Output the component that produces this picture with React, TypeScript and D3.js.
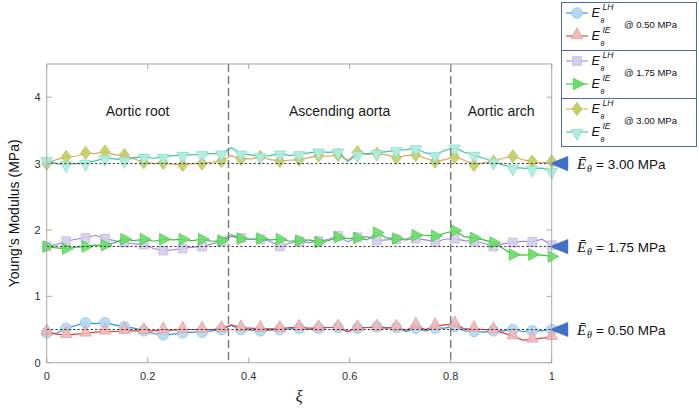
import React from "react";
import * as d3 from "d3";

const sampleCount = 53;
const xTicks = [0, 0.2, 0.4, 0.6, 0.8, 1];
const yTicks = [0, 1, 2, 3, 4];
const regionBounds = [0.36, 0.8];
const regionLabels = ["Aortic root", "Ascending aorta", "Aortic arch"];
const regionCenters = [0.18, 0.58, 0.9];
const referenceLevels = [0.5, 1.75, 3.0];
const referenceLabels = ["0.50", "1.75", "3.00"];
const legendPressures = ["@ 0.50 MPa", "@ 1.75 MPa", "@ 3.00 MPa"];

// values at marker samples (every other sample) and the samples between them
const lh050Markers = [0.45, 0.52, 0.6, 0.6, 0.54, 0.48, 0.42, 0.45, 0.46, 0.5, 0.5, 0.48, 0.5, 0.52, 0.52, 0.53, 0.52, 0.54, 0.53, 0.52, 0.52, 0.55, 0.47, 0.48, 0.5, 0.48, 0.5];
const lh050Between = [0.44, 0.56, 0.59, 0.57, 0.52, 0.44, 0.43, 0.46, 0.48, 0.56, 0.49, 0.49, 0.51, 0.5, 0.53, 0.47, 0.53, 0.53, 0.47, 0.48, 0.52, 0.48, 0.46, 0.48, 0.47, 0.48];
const ie050Markers = [0.46, 0.42, 0.44, 0.47, 0.48, 0.48, 0.49, 0.5, 0.5, 0.51, 0.52, 0.51, 0.51, 0.53, 0.52, 0.53, 0.52, 0.53, 0.53, 0.56, 0.55, 0.58, 0.51, 0.49, 0.4, 0.35, 0.39];
const ie050Between = [0.43, 0.43, 0.46, 0.47, 0.48, 0.48, 0.49, 0.5, 0.5, 0.57, 0.52, 0.51, 0.53, 0.52, 0.53, 0.47, 0.53, 0.52, 0.49, 0.5, 0.57, 0.51, 0.5, 0.45, 0.34, 0.37];
const lh175Markers = [1.75, 1.83, 1.88, 1.87, 1.81, 1.78, 1.69, 1.72, 1.75, 1.83, 1.88, 1.86, 1.75, 1.83, 1.83, 1.91, 1.89, 1.84, 1.86, 1.87, 1.82, 1.87, 1.83, 1.75, 1.81, 1.82, 1.77];
const lh175Between = [1.78, 1.86, 1.92, 1.84, 1.79, 1.72, 1.7, 1.74, 1.79, 1.9, 1.86, 1.83, 1.8, 1.81, 1.86, 1.82, 1.9, 1.85, 1.85, 1.85, 1.86, 1.84, 1.8, 1.79, 1.83, 1.86];
const ie175Markers = [1.75, 1.72, 1.75, 1.77, 1.86, 1.86, 1.86, 1.86, 1.86, 1.84, 1.87, 1.87, 1.86, 1.84, 1.82, 1.89, 1.88, 1.96, 1.87, 1.92, 1.91, 1.99, 1.88, 1.81, 1.63, 1.63, 1.6];
const ie175Between = [1.73, 1.74, 1.77, 1.81, 1.84, 1.83, 1.85, 1.84, 1.83, 1.93, 1.86, 1.85, 1.83, 1.85, 1.84, 1.87, 1.85, 1.88, 1.86, 1.92, 1.95, 1.9, 1.85, 1.72, 1.62, 1.62];
const lh300Markers = [3.0, 3.1, 3.16, 3.18, 3.13, 3.02, 3.01, 2.98, 3.0, 3.04, 3.07, 3.1, 3.04, 3.06, 3.12, 3.13, 3.17, 3.15, 3.09, 3.13, 3.03, 3.1, 2.98, 3.03, 3.11, 3.03, 3.03];
const lh300Between = [3.06, 3.11, 3.15, 3.13, 3.07, 3.0, 2.99, 3.0, 3.02, 3.12, 3.07, 3.06, 3.05, 3.09, 3.11, 3.05, 3.14, 3.13, 3.12, 3.08, 3.06, 3.05, 3.01, 3.08, 3.06, 3.01];
const ie300Markers = [3.05, 2.99, 3.01, 3.08, 3.05, 3.1, 3.1, 3.13, 3.14, 3.15, 3.15, 3.11, 3.15, 3.14, 3.18, 3.18, 3.14, 3.16, 3.2, 3.23, 3.13, 3.24, 3.13, 3.03, 2.94, 2.92, 2.89];
const ie300Between = [3.0, 3.0, 3.04, 3.07, 3.09, 3.08, 3.12, 3.13, 3.15, 3.24, 3.13, 3.12, 3.12, 3.16, 3.17, 3.03, 3.15, 3.18, 3.21, 3.16, 3.2, 3.17, 3.08, 2.98, 2.93, 2.93];

type Sym = "circle" | "triUp" | "square" | "triRight" | "diamond" | "triDown";

function interleave(m: number[], b: number[]) {
  const out: number[] = [];
  m.forEach((v, i) => {
    out.push(v);
    if (i < b.length) out.push(b[i]);
  });
  return out;
}

const series = [
  { values: interleave(lh050Markers, lh050Between), line: "#2e8ee0", fill: "#b4d9f3", stroke: "#8ec4ec", sym: "circle" as Sym },
  { values: interleave(ie050Markers, ie050Between), line: "#e2393a", fill: "#f1b9b8", stroke: "#e59c9a", sym: "triUp" as Sym },
  { values: interleave(lh175Markers, lh175Between), line: "#a283e6", fill: "#d6cdea", stroke: "#c4b8e2", sym: "square" as Sym },
  { values: interleave(ie175Markers, ie175Between), line: "#34c034", fill: "#6ade6a", stroke: "#4ccc4c", sym: "triRight" as Sym },
  { values: interleave(lh300Markers, lh300Between), line: "#d9a862", fill: "#c5cd62", stroke: "#b5be52", sym: "diamond" as Sym },
  { values: interleave(ie300Markers, ie300Between), line: "#3cc4a6", fill: "#b2ece0", stroke: "#86dcc8", sym: "triDown" as Sym },
];

function symbolPath(sym: Sym, cx: number, cy: number) {
  switch (sym) {
    case "circle": {
      const r = 5.3;
      return `M${cx - r},${cy}a${r},${r} 0 1,0 ${2 * r},0a${r},${r} 0 1,0 ${-2 * r},0Z`;
    }
    case "triUp":
      return `M${cx},${cy - 8.3}L${cx + 5.8},${cy + 2.6}L${cx - 5.8},${cy + 2.6}Z`;
    case "triDown":
      return `M${cx},${cy + 8.3}L${cx + 5.8},${cy - 2.6}L${cx - 5.8},${cy - 2.6}Z`;
    case "triRight":
      return `M${cx + 7.2},${cy}L${cx - 3.6},${cy - 5.8}L${cx - 3.6},${cy + 5.8}Z`;
    case "square":
      return `M${cx - 4.4},${cy - 4.4}h8.8v8.8h-8.8Z`;
    case "diamond":
      return `M${cx},${cy - 6.6}L${cx + 4.8},${cy}L${cx},${cy + 6.6}L${cx - 4.8},${cy}Z`;
  }
}

const X0 = 46.7, X1 = 551.7, Y0 = 362.7, Y1 = 64;
const FONT = "Arial, 'Liberation Sans', Helvetica, sans-serif";
const SERIF = "'Times New Roman', 'Liberation Serif', serif";

export default function App() {
  const x = d3.scaleLinear().domain([0, 1]).range([X0, X1]);
  const y = d3.scaleLinear().domain([0, 4.5]).range([Y0, Y1]);
  const xi = d3.range(sampleCount).map((i) => i / (sampleCount - 1));
  const line = d3
    .line<number>()
    .x((_, i) => x(xi[i]))
    .y((d) => y(d));

  const axisColor = "#a8a8a8";
  const labelColor = "#303030";

  const legendTop = 2.5;
  const sectionH = 48;

  return (
    <div style={{ position: "absolute", left: 0, top: 0 }}>
      <svg width={699} height={410} style={{ display: "block", background: "#fff" }}>
        {/* series */}
        {series.map((s, si) => (
          <g key={si}>
            <path d={line(s.values) || ""} fill="none" stroke={s.line} strokeWidth={1.2} />
            {s.values.map((v, i) =>
              i % 2 === 0 ? (
                <path key={i} d={symbolPath(s.sym, x(xi[i]), y(v))} fill={s.fill} stroke={s.stroke} strokeWidth={0.8} fillOpacity={0.9} />
              ) : null
            )}
          </g>
        ))}

        {/* reference levels */}
        {referenceLevels.map((lv, i) => (
          <g key={i}>
            <line x1={x(0)} x2={x(1)} y1={y(lv)} y2={y(lv)} stroke="#333" strokeWidth={1} strokeDasharray="2.2,2.2" />
            <path d={`M${x(1) - 2.5},${y(lv)}L${x(1) + 16.5},${y(lv) - 7.6}L${x(1) + 16.5},${y(lv) + 7.6}Z`} fill="#4170c6" />
            <text x={577} y={y(lv) + 5} fontSize={15} fill="#111" fontFamily={SERIF} fontStyle="italic">
              Ē
            </text>
            <text x={587} y={y(lv) + 8.5} fontSize={10} fill="#111" fontFamily={SERIF} fontStyle="italic">
              θ
            </text>
            <text x={596} y={y(lv) + 5} fontSize={13.5} fill="#111" fontFamily={FONT}>
              = {referenceLabels[i]} MPa
            </text>
          </g>
        ))}

        {/* region boundaries */}
        {regionBounds.map((b, i) => (
          <line key={i} x1={x(b)} x2={x(b)} y1={Y1} y2={Y0} stroke="#7a7a7a" strokeWidth={1.4} strokeDasharray="8,4" />
        ))}
        {regionLabels.map((t, i) => (
          <text key={i} x={x(regionCenters[i])} y={116} textAnchor="middle" fontSize={14} fill="#1a1a1a" fontFamily={FONT}>
            {t}
          </text>
        ))}

        {/* frame */}
        <rect x={X0} y={Y1} width={X1 - X0} height={Y0 - Y1} fill="none" stroke={axisColor} strokeWidth={1} />
        {xTicks.map((t, i) => (
          <g key={i}>
            <line x1={x(t)} x2={x(t)} y1={Y0} y2={Y0 - 5} stroke={axisColor} />
            <line x1={x(t)} x2={x(t)} y1={Y1} y2={Y1 + 5} stroke={axisColor} />
            <text x={x(t)} y={Y0 + 17} textAnchor="middle" fontSize={11} fill={labelColor} fontFamily={FONT}>
              {d3.format("~g")(t)}
            </text>
          </g>
        ))}
        {yTicks.map((t, i) => (
          <g key={i}>
            <line x1={X0} x2={X0 + 5} y1={y(t)} y2={y(t)} stroke={axisColor} />
            <line x1={X1} x2={X1 - 5} y1={y(t)} y2={y(t)} stroke={axisColor} />
            <text x={X0 - 6} y={y(t) + 4} textAnchor="end" fontSize={11} fill={labelColor} fontFamily={FONT}>
              {t}
            </text>
          </g>
        ))}

        {/* axis labels */}
        <text transform={`translate(19,${(Y0 + Y1) / 2}) rotate(-90)`} textAnchor="middle" fontSize={14} fill="#111" fontFamily={FONT}>
          Young’s Modulus (MPa)
        </text>
        <text x={(X0 + X1) / 2} y={402} textAnchor="middle" fontSize={16} fill="#111" fontFamily={SERIF} fontStyle="italic">
          ξ
        </text>

        {/* legend */}
        <rect x={561.5} y={legendTop} width={135} height={sectionH * 3} fill="#fff" stroke="#4a6aa8" strokeWidth={1} />
        {[1, 2].map((k) => (
          <line key={k} x1={561.5} x2={696.5} y1={legendTop + k * sectionH} y2={legendTop + k * sectionH} stroke="#4a6aa8" strokeWidth={1} />
        ))}
        {series.map((s, si) => {
          const sec = Math.floor(si / 2);
          const row = si % 2;
          const cy = legendTop + sec * sectionH + 10.5 + row * 23;
          return (
            <g key={si}>
              <line x1={566} x2={588} y1={cy} y2={cy} stroke={s.line} strokeWidth={1.1} />
              <path d={symbolPath(s.sym, 577, cy)} fill={s.fill} stroke={s.stroke} strokeWidth={0.8} />
              <text x={591.5} y={cy + 4} fontSize={12.5} fontStyle="italic" fill="#111" fontFamily={FONT}>
                E
              </text>
              <text x={602.5} y={cy - 3.5} fontSize={8.5} fontStyle="italic" fill="#111" fontFamily={FONT}>
                {row === 0 ? "LH" : "IE"}
              </text>
              <text x={600.5} y={cy + 10} fontSize={7} fontStyle="italic" fill="#111" fontFamily={FONT}>
                θ
              </text>
            </g>
          );
        })}
        {legendPressures.map((t, i) => (
          <text key={i} x={624} y={legendTop + i * sectionH + 25} fontSize={9.5} fill="#111" fontFamily={FONT}>
            {t}
          </text>
        ))}
      </svg>
    </div>
  );
}
